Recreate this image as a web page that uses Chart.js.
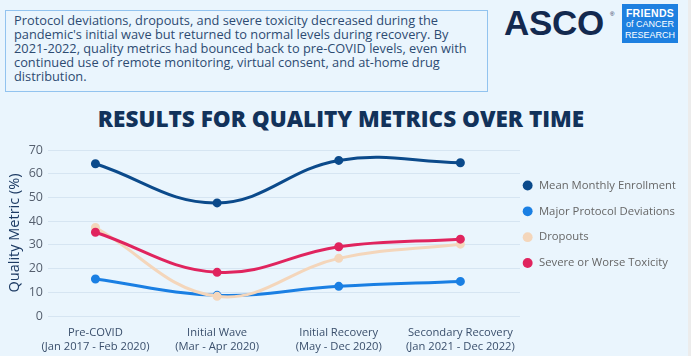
<!DOCTYPE html>
<html><head><meta charset="utf-8">
<script src="https://cdn.jsdelivr.net/npm/chart.js@4"></script>
<style>
html,body{margin:0;padding:0;}
body{width:691px;height:356px;background:#ececec;position:relative;overflow:hidden;font-family:"Open Sans",sans-serif;}
#bg{position:absolute;left:0;top:0;width:688px;height:356px;background:#eaf5fd;}
#note{position:absolute;left:5px;top:10px;width:483px;height:82px;border:1.5px solid #92c3ef;box-sizing:border-box;padding:3px 0 0 8px;color:#2d4b72;font-size:12.8px;line-height:13.9px;white-space:nowrap;}
#asco{position:absolute;left:504px;top:3px;font-family:"Liberation Sans",Arial,sans-serif;font-weight:bold;font-size:35px;color:#13294f;letter-spacing:-0.3px;}
#reg{position:absolute;left:610px;top:11px;font-family:"Liberation Sans",Arial,sans-serif;font-size:6px;color:#13294f;}
#foc{position:absolute;left:622px;top:4px;width:56px;height:39px;background:#1e80e0;color:#fff;font-family:"Liberation Sans",Arial,sans-serif;text-align:center;}
#foc .a{font-weight:bold;font-size:10.5px;margin-top:3px;line-height:12px;letter-spacing:0.3px}
#foc .b{font-size:9px;line-height:11px}
#title{position:absolute;left:0;width:682px;top:103px;text-align:center;font-family:"Open Sans",sans-serif;font-weight:800;font-size:22.5px;color:#12325a;letter-spacing:0px;}
#wrap{position:absolute;left:0;top:132px;width:688px;height:224px;}
</style></head><body>
<div id="bg"></div>
<div id="note">Protocol deviations, dropouts, and severe toxicity decreased during the<br>pandemic's initial wave but returned to normal levels during recovery. By<br>2021-2022, quality metrics had bounced back to pre-COVID levels, even with<br>continued use of remote monitoring, virtual consent, and at-home drug<br>distribution.</div>
<div id="asco">ASCO</div><div id="reg">®</div>
<div id="foc"><div class="a">FRIENDS</div><div class="b">of CANCER</div><div class="b">RESEARCH</div></div>
<div id="title">RESULTS FOR QUALITY METRICS OVER TIME</div>
<div id="wrap"><canvas id="c" width="688" height="224"></canvas></div>
<script>
const categories = [["Pre-COVID","(Jan 2017 - Feb 2020)"],["Initial Wave","(Mar - Apr 2020)"],["Initial Recovery","(May - Dec 2020)"],["Secondary Recovery","(Jan 2021 - Dec 2022)"]];
const seriesNames = ["Mean Monthly Enrollment","Major Protocol Deviations","Dropouts","Severe or Worse Toxicity"];
const enrollment = [64.2, 47.7, 65.6, 64.6];
const protocolDeviations = [15.6, 8.7, 12.5, 14.6];
const dropouts = [37.3, 8.3, 24.3, 30.3];
const toxicity = [35.3, 18.4, 29.2, 32.4];
const yTicks = [0,10,20,30,40,50,60,70];
const colors = ["#0b4a8b","#1a7fe3","#f4d6bb","#e0245e"];
const allSeries = [enrollment, protocolDeviations, dropouts, toxicity];

const datasets = allSeries.map((vals,i)=>({
  label: seriesNames[i],
  data: vals.map((v,j)=>({x:j,y:v})),
  borderColor: colors[i], backgroundColor: colors[i],
  borderWidth: 3, pointRadius: 3, pointHoverRadius:3,
  tension: 0.4, cubicInterpolationMode:'default',
  order: 4-i
}));

const shiftLegend = {
  id:'shiftLegend',
  afterLayout(chart){ if(chart.legend){ chart.legend.left -= 12.5; chart.legend.right -= 12.5; } }
};

Chart.defaults.font.family = '"Open Sans", sans-serif';
new Chart(document.getElementById('c'), {
  type:'line',
  data:{datasets},
  plugins:[shiftLegend],
  options:{
    responsive:false, animation:false,
    layout:{padding:{left:6,top:18,right:0,bottom:0}},
    plugins:{
      tooltip:{enabled:false},
      legend:{position:'right', align:'start', maxWidth:168,
        labels:{usePointStyle:true, pointStyle:'circle', boxWidth:16, boxHeight:7, padding:14.5, color:'#2d4b72', font:{size:11.3},
          sort:(a,b)=>a.datasetIndex-b.datasetIndex,
          generateLabels:(chart)=>chart.data.datasets.map((d,i)=>({text:d.label, fillStyle:d.borderColor, strokeStyle:d.borderColor, lineWidth:0, pointStyle:'circle', datasetIndex:i, hidden:false}))
        },
        title:{display:true, text:'', padding:{top:0,bottom:1}}
      }
    },
    scales:{
      x:{type:'linear', min:-0.39, max:3.49,
        afterBuildTicks:(ax)=>{ax.ticks=categories.map((c,i)=>({value:i}));},
        ticks:{callback:(v)=>categories[v], color:'#3a4f6c', font:{size:11.2, lineHeight:1.25}, maxRotation:0, autoSkip:false, padding:2},
        grid:{display:false}, border:{display:false}},
      y:{min:0, max:70,
        afterFit:(ax)=>{ax.width=42;},
        afterBuildTicks:(ax)=>{ax.ticks=yTicks.map(v=>({value:v}));},
        ticks:{color:'#555f6e', font:{size:12.5}, padding:5},
        grid:{color:'#d6e5f2', lineWidth:1, drawTicks:false}, border:{display:false},
        title:{display:true, text:'Quality Metric (%)', color:'#1c3a63', font:{size:14.5}, padding:{top:0,bottom:4}}
      }
    }
  }
});
</script>
</body></html>
